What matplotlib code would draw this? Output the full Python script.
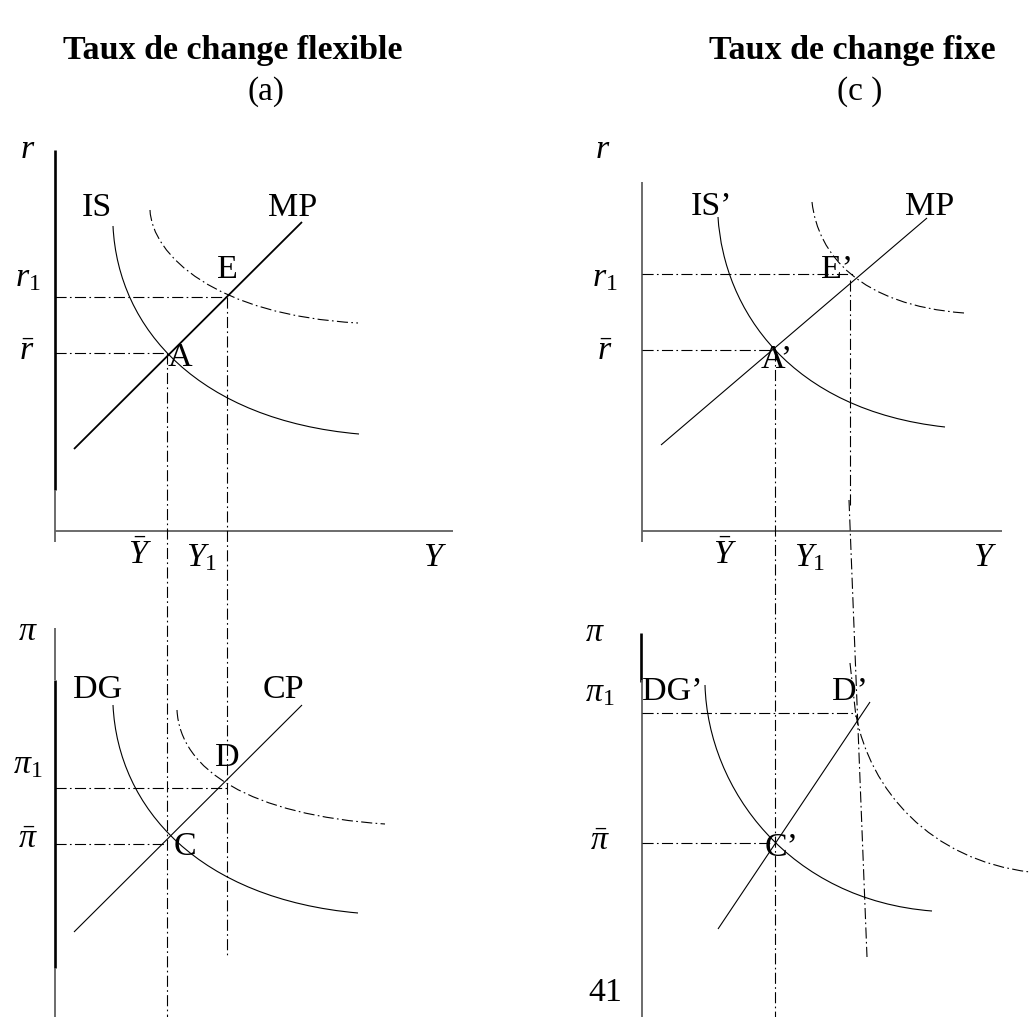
"""IS-MP / DG-CP diagram: flexible vs fixed exchange rate (panels a and c).

Drawn on a single canvas axis whose data units are the picture's pixels.
Output: out.png
"""
import matplotlib
import matplotlib.pyplot as plt
from matplotlib.path import Path
from matplotlib.patches import PathPatch

matplotlib.rcParams.update({
    "font.family": ["Liberation Serif", "DejaVu Serif"],
    "mathtext.fontset": "custom",
    "mathtext.rm": "Liberation Serif",
    "mathtext.it": "Liberation Serif:italic",
    "mathtext.bf": "Liberation Serif:bold",
})

W, H = 1031, 1017

# ── curves (cubic Bezier: start, ctrl1, ctrl2, end) ─────────
IS_A = [(113, 226), (118, 330), (200, 420), (359, 434)]
IS_A_SHIFT = [(150, 210), (152, 255), (215, 315), (358, 323)]
DG_A = [(113, 705), (118, 809), (200, 899), (358, 913)]
DG_A_SHIFT = [(177, 710), (180, 770), (250, 815), (385, 824)]
IS_C = [(718, 217), (724, 310), (790, 410), (945, 427)]
IS_C_SHIFT = [(812, 202), (818, 255), (860, 305), (964, 313)]
DG_C = [(705, 685), (708, 790), (790, 900), (932, 911)]
DG_C_SHIFT = [(856, 715), (870, 790), (930, 860), (1030, 872)]

# ── straight schedules ──────────────────────────────────────
MP_A = [(74, 449), (302, 222)]
CP_A = [(74, 932), (302, 705)]
MP_C = [(661, 445), (927, 218)]
CP_C = [(718, 929), (870, 702)]

# ── dash-dot guide lines ────────────────────────────────────
GUIDES = [
    [(55, 297), (227, 297)], [(55, 353), (167, 353)],
    [(167, 353), (167, 1017)], [(227, 297), (227, 957)],
    [(55, 788), (227, 788)], [(55, 844), (167, 844)],
    [(642, 274), (853, 274)], [(642, 350), (773, 350)],
    [(850, 280), (850, 505)], [(849, 500), (867, 957)],
    [(775, 350), (775, 1017)],
    [(642, 713), (855, 713)], [(642, 843), (770, 843)],
    [(850, 663), (856, 717)],
]

# ── axes: (segment, thick?) ─────────────────────────────────
AXES_LINES = [
    ([(55, 150), (55, 490)], True), ([(55, 490), (55, 542)], False),
    ([(55, 531), (453, 531)], False),
    ([(55, 628), (55, 680)], False), ([(55, 680), (55, 968)], True),
    ([(55, 968), (55, 1017)], False),
    ([(642, 182), (642, 542)], False), ([(642, 531), (1002, 531)], False),
    ([(641, 633), (641, 682)], True), ([(642, 680), (642, 1017)], False),
]

# ── labels ──────────────────────────────────────────────────
TITLES = [("Taux de change flexible", 233, 50), ("Taux de change fixe", 852, 50)]
SUBTITLES = [("(a)", 266, 92), ("(c )", 860, 92)]
LABELS = [
    ("$r$", 28, 150), ("IS", 97, 208), ("MP", 293, 208),
    ("$r_1$", 28, 278), (r"$\bar{r}$", 27, 352), ("E", 227, 270),
    ("A", 180, 358), (r"$\bar{Y}$", 140, 555), ("$Y_1$", 202, 558),
    ("$Y$", 435, 558),
    (r"$\pi$", 28, 632), ("DG", 98, 690), ("CP", 283, 690),
    (r"$\pi_1$", 28, 765), (r"$\bar{\pi}$", 28, 840), ("D", 227, 758),
    ("C", 185, 847),
    ("$r$", 603, 150), ("IS’", 712, 207), ("MP", 930, 207),
    ("$r_1$", 605, 278), (r"$\bar{r}$", 605, 352), ("E’", 837, 270),
    ("A’", 777, 360), (r"$\bar{Y}$", 725, 555), ("$Y_1$", 810, 558),
    ("$Y$", 985, 558),
    (r"$\pi$", 595, 633), ("DG’", 672, 692), ("D’", 850, 692),
    (r"$\pi_1$", 600, 693), (r"$\bar{\pi}$", 600, 842), ("C’", 782, 848),
    ("41", 605, 993),
]

DASHDOT = (0, (10, 3, 1.5, 3))


def bezier(ax, pts, **kw):
    codes = [Path.MOVETO, Path.CURVE4, Path.CURVE4, Path.CURVE4]
    ax.add_patch(PathPatch(Path(pts, codes), fill=False, **kw))


def seg(ax, pts, **kw):
    xs, ys = zip(*pts)
    ax.plot(xs, ys, solid_capstyle="butt", **kw)


def main():
    fig = plt.figure(figsize=(W / 100, H / 100), dpi=100)
    ax = fig.add_axes([0, 0, 1, 1])
    ax.set_xlim(0, W)
    ax.set_ylim(H, 0)
    ax.axis("off")

    for pts, thick in AXES_LINES:
        if thick:
            seg(ax, pts, color="black", lw=1.9)
        else:
            seg(ax, pts, color="#606060", lw=1.3)

    for pts in (IS_A, DG_A, IS_C, DG_C):
        bezier(ax, pts, color="black", lw=0.8)
    for pts in (IS_A_SHIFT, DG_A_SHIFT, IS_C_SHIFT, DG_C_SHIFT):
        bezier(ax, pts, color="black", lw=0.8, linestyle=DASHDOT)

    seg(ax, MP_A, color="black", lw=1.3)
    for pts in (CP_A, MP_C, CP_C):
        seg(ax, pts, color="black", lw=0.8)

    for pts in GUIDES:
        seg(ax, pts, color="black", lw=0.8, linestyle=DASHDOT)

    for txt, x, y in TITLES:
        ax.text(x, y, txt, ha="center", va="center", fontsize=24.5,
                fontweight="bold")
    for txt, x, y in SUBTITLES:
        ax.text(x, y, txt, ha="center", va="center", fontsize=24)
    for txt, x, y in LABELS:
        ax.text(x, y, txt, ha="center", va="center", fontsize=24.5)

    fig.savefig("out.png", dpi=100)
    plt.close(fig)


if __name__ == "__main__":
    main()
